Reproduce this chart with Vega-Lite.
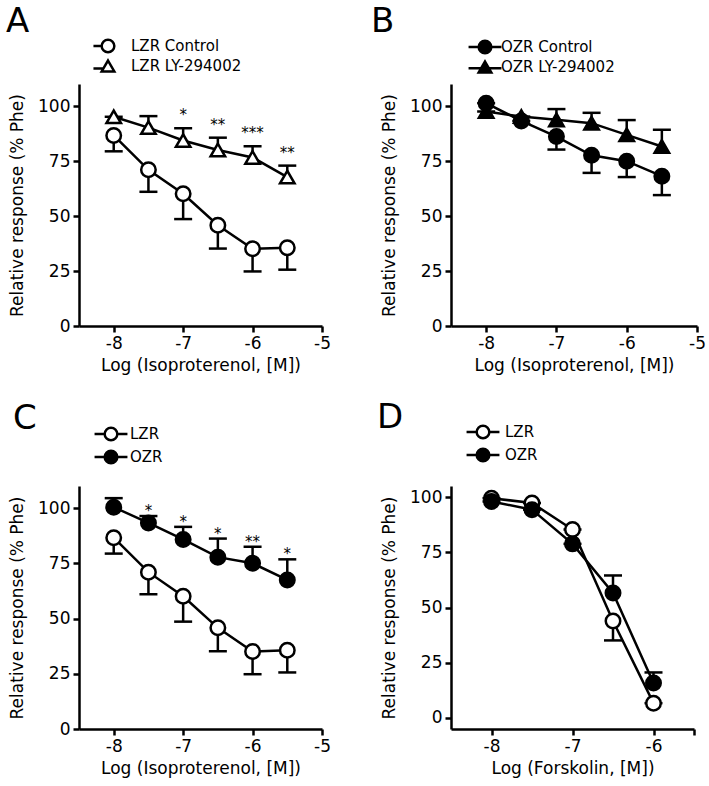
{
  "$schema": "https://vega.github.io/schema/vega-lite/v6.json",
  "background": "white",
  "padding": {"left": 6, "top": 5, "right": 5, "bottom": 5},
  "datasets": {
    "d": [
      {"panel": "A", "series": "LZR Control", "x": -8, "mean": 86.6, "end": 79.4, "sig": ""},
      {"panel": "A", "series": "LZR Control", "x": -7.5, "mean": 71.0, "end": 61.0, "sig": ""},
      {"panel": "A", "series": "LZR Control", "x": -7, "mean": 60.1, "end": 48.6, "sig": ""},
      {"panel": "A", "series": "LZR Control", "x": -6.5, "mean": 45.8, "end": 35.2, "sig": ""},
      {"panel": "A", "series": "LZR Control", "x": -6, "mean": 35.1, "end": 24.8, "sig": ""},
      {"panel": "A", "series": "LZR Control", "x": -5.5, "mean": 35.6, "end": 25.6, "sig": ""},
      {"panel": "A", "series": "LZR LY-294002", "x": -8, "mean": 95.1, "end": 95.1, "sig": ""},
      {"panel": "A", "series": "LZR LY-294002", "x": -7.5, "mean": 90.2, "end": 95.4, "sig": ""},
      {"panel": "A", "series": "LZR LY-294002", "x": -7, "mean": 84.3, "end": 89.9, "sig": "*"},
      {"panel": "A", "series": "LZR LY-294002", "x": -6.5, "mean": 80.0, "end": 85.6, "sig": "**"},
      {"panel": "A", "series": "LZR LY-294002", "x": -6, "mean": 76.6, "end": 81.7, "sig": "***"},
      {"panel": "A", "series": "LZR LY-294002", "x": -5.5, "mean": 67.7, "end": 72.9, "sig": "**"},
      {"panel": "B", "series": "OZR Control", "x": -8, "mean": 101.3, "end": 101.3, "sig": ""},
      {"panel": "B", "series": "OZR Control", "x": -7.5, "mean": 93.2, "end": 93.2, "sig": ""},
      {"panel": "B", "series": "OZR Control", "x": -7, "mean": 86.1, "end": 80.2, "sig": ""},
      {"panel": "B", "series": "OZR Control", "x": -6.5, "mean": 77.6, "end": 69.6, "sig": ""},
      {"panel": "B", "series": "OZR Control", "x": -6, "mean": 74.9, "end": 67.7, "sig": ""},
      {"panel": "B", "series": "OZR Control", "x": -5.5, "mean": 68.1, "end": 59.5, "sig": ""},
      {"panel": "B", "series": "OZR LY-294002", "x": -8, "mean": 97.5, "end": 97.5, "sig": ""},
      {"panel": "B", "series": "OZR LY-294002", "x": -7.5, "mean": 95.2, "end": 95.2, "sig": ""},
      {"panel": "B", "series": "OZR LY-294002", "x": -7, "mean": 93.7, "end": 98.6, "sig": ""},
      {"panel": "B", "series": "OZR LY-294002", "x": -6.5, "mean": 92.2, "end": 96.9, "sig": ""},
      {"panel": "B", "series": "OZR LY-294002", "x": -6, "mean": 86.9, "end": 93.6, "sig": ""},
      {"panel": "B", "series": "OZR LY-294002", "x": -5.5, "mean": 81.6, "end": 89.2, "sig": ""},
      {"panel": "C", "series": "LZR", "x": -8, "mean": 86.6, "end": 79.4, "sig": ""},
      {"panel": "C", "series": "LZR", "x": -7.5, "mean": 71.0, "end": 61.0, "sig": ""},
      {"panel": "C", "series": "LZR", "x": -7, "mean": 60.1, "end": 48.6, "sig": ""},
      {"panel": "C", "series": "LZR", "x": -6.5, "mean": 45.8, "end": 35.2, "sig": ""},
      {"panel": "C", "series": "LZR", "x": -6, "mean": 35.1, "end": 24.8, "sig": ""},
      {"panel": "C", "series": "LZR", "x": -5.5, "mean": 35.6, "end": 25.6, "sig": ""},
      {"panel": "C", "series": "OZR", "x": -8, "mean": 100.4, "end": 104.5, "sig": ""},
      {"panel": "C", "series": "OZR", "x": -7.5, "mean": 93.3, "end": 96.4, "sig": "*"},
      {"panel": "C", "series": "OZR", "x": -7, "mean": 85.8, "end": 91.5, "sig": "*"},
      {"panel": "C", "series": "OZR", "x": -6.5, "mean": 77.8, "end": 86.2, "sig": "*"},
      {"panel": "C", "series": "OZR", "x": -6, "mean": 75.0, "end": 82.5, "sig": "**"},
      {"panel": "C", "series": "OZR", "x": -5.5, "mean": 67.5, "end": 76.8, "sig": "*"},
      {"panel": "D", "series": "LZR", "x": -8, "mean": 99.5, "end": 99.5, "sig": ""},
      {"panel": "D", "series": "LZR", "x": -7.5, "mean": 97.3, "end": 97.3, "sig": ""},
      {"panel": "D", "series": "LZR", "x": -7, "mean": 85.3, "end": 85.3, "sig": ""},
      {"panel": "D", "series": "LZR", "x": -6.5, "mean": 43.9, "end": 35.1, "sig": ""},
      {"panel": "D", "series": "LZR", "x": -6, "mean": 6.7, "end": 6.7, "sig": ""},
      {"panel": "D", "series": "OZR", "x": -8, "mean": 98.0, "end": 98.0, "sig": ""},
      {"panel": "D", "series": "OZR", "x": -7.5, "mean": 94.3, "end": 94.3, "sig": ""},
      {"panel": "D", "series": "OZR", "x": -7, "mean": 78.8, "end": 78.8, "sig": ""},
      {"panel": "D", "series": "OZR", "x": -6.5, "mean": 56.6, "end": 64.5, "sig": ""},
      {"panel": "D", "series": "OZR", "x": -6, "mean": 15.8, "end": 20.6, "sig": ""}
    ]
  },
  "config": {
    "font": "DejaVu Sans",
    "view": {"stroke": null},
    "axis": {
      "domainColor": "black", "domainWidth": 2.5, "tickColor": "black", "tickWidth": 2.5, "tickSize": 6,
      "labelColor": "black", "labelFont": "DejaVu Sans", "labelFontSize": 17, "labelPadding": 3,
      "labelFlush": false, "labelOverlap": false,
      "titleFont": "DejaVu Sans", "titleFontSize": 17, "titleFontWeight": "normal", "titleColor": "black",
      "grid": false
    },
    "axisX": {"titlePadding": 6},
    "axisY": {"titlePadding": 11},
    "legend": {"title": null, "orient": "none", "padding": 0, "symbolSize": 160, "symbolStrokeWidth": 2.5, "symbolStrokeColor": "black", "symbolOpacity": 1, "labelFont": "DejaVu Sans", "labelFontSize": 15, "labelColor": "black"},
    "title": {"font": "DejaVu Sans", "fontSize": 34, "fontWeight": "normal", "color": "black", "anchor": "start", "frame": "group", "baseline": "alphabetic"}
  },
  "columns": 2,
  "spacing": {"row": 160, "column": 129},
  "bounds": "flush",
  "resolve": {"scale": {"shape": "independent", "fill": "independent"}, "legend": {"fill": "independent", "shape": "independent"}},
  "concat": [
    {
      "width": 243, "height": 242,
      "title": {"text": "A", "dx": -73, "offset": -1},
      "data": {"name": "d"},
      "transform": [{"filter": "datum.panel === 'A'"}],
      "resolve": {"scale": {"shape": "independent", "fill": "independent"}},
      "encoding": {
        "x": {"field": "x", "type": "quantitative", "scale": {"domain": [-8.5, -5], "nice": false, "zero": false}, "axis": {"values": [-8, -7, -6, -5], "labelExpr": "'' + datum.value"}, "title": "Log (Isoproterenol, [M])"}
      },
      "layer": [
        {"mark": {"type": "rule", "strokeWidth": 2.5, "color": "black"},
         "encoding": {"y": {"field": "mean", "type": "quantitative", "scale": {"domain": [0, 110], "nice": false, "zero": false}, "axis": {"values": [0, 25, 50, 75, 100]}, "title": "Relative response (% Phe)"}, "y2": {"field": "end"}}},
        {"mark": {"type": "tick", "orient": "horizontal", "size": 18, "thickness": 2.5, "color": "black", "opacity": 1},
         "encoding": {"y": {"field": "end", "type": "quantitative", "scale": {"domain": [0, 110], "nice": false, "zero": false}, "title": "Relative response (% Phe)"}}},
        {"mark": {"type": "line", "strokeWidth": 2.5, "color": "black"},
         "encoding": {"y": {"field": "mean", "type": "quantitative", "scale": {"domain": [0, 110], "nice": false, "zero": false}, "title": "Relative response (% Phe)"}, "detail": {"field": "series"}}},
        {"mark": {"type": "point", "size": 210, "strokeWidth": 2.5, "stroke": "black", "filled": true, "opacity": 1},
         "encoding": {
           "y": {"field": "mean", "type": "quantitative", "scale": {"domain": [0, 110], "nice": false, "zero": false}, "title": "Relative response (% Phe)"},
           "shape": {"field": "series", "type": "nominal", "scale": {"domain": ["LZR Control", "LZR LY-294002"], "range": ["circle", "triangle-up"]}, "legend": null},
           "fill": {"field": "series", "type": "nominal", "scale": {"domain": ["LZR Control", "LZR LY-294002"], "range": ["white", "white"]}, "legend": null}
         }},
        {"transform": [{"filter": "false"}],
         "mark": {"type": "point", "strokeWidth": 2.5, "stroke": "black", "filled": true, "opacity": 1},
         "encoding": {
           "y": {"field": "mean", "type": "quantitative", "scale": {"domain": [0, 110], "nice": false, "zero": false}, "title": "Relative response (% Phe)"},
           "shape": {"field": "series", "type": "nominal", "scale": {"domain": ["LZR Control", "LZR LY-294002"], "range": ["M-2.3,0L-1,0M1,0A1,1,0,1,1,-1,0A1,1,0,1,1,1,0Z", "M-2.3,0.4L-0.73,0.4M0,-0.866L1,0.866L-1,0.866Z"]},
             "legend": {"legendX": 21, "legendY": -46, "labelOffset": 15, "rowPadding": -10, "encode": {"symbols": {"update": {"stroke": {"value": "black"}, "strokeWidth": {"value": 2.5}}}}}},
           "fill": {"field": "series", "type": "nominal", "scale": {"domain": ["LZR Control", "LZR LY-294002"], "range": ["white", "white"]},
             "legend": {"legendX": 21, "legendY": -46, "labelOffset": 15, "rowPadding": -10, "encode": {"symbols": {"update": {"stroke": {"value": "black"}, "strokeWidth": {"value": 2.5}}}}}}
         }},
        {"transform": [{"filter": "datum.sig !== ''"}],
         "mark": {"type": "text", "dy": -8, "fontSize": 15, "baseline": "alphabetic", "color": "black"},
         "encoding": {"y": {"field": "end", "type": "quantitative", "scale": {"domain": [0, 110], "nice": false, "zero": false}, "title": "Relative response (% Phe)"}, "text": {"field": "sig"}}}
      ]
    },
    {
      "width": 246, "height": 242,
      "title": {"text": "B", "dx": -80, "offset": 0},
      "data": {"name": "d"},
      "transform": [{"filter": "datum.panel === 'B'"}],
      "resolve": {"scale": {"shape": "independent", "fill": "independent"}},
      "encoding": {
        "x": {"field": "x", "type": "quantitative", "scale": {"domain": [-8.5, -5], "nice": false, "zero": false}, "axis": {"values": [-8, -7, -6, -5], "labelExpr": "'' + datum.value"}, "title": "Log (Isoproterenol, [M])"}
      },
      "layer": [
        {"mark": {"type": "rule", "strokeWidth": 2.5, "color": "black"},
         "encoding": {"y": {"field": "mean", "type": "quantitative", "scale": {"domain": [0, 110], "nice": false, "zero": false}, "axis": {"values": [0, 25, 50, 75, 100]}, "title": "Relative response (% Phe)"}, "y2": {"field": "end"}}},
        {"mark": {"type": "tick", "orient": "horizontal", "size": 18, "thickness": 2.5, "color": "black", "opacity": 1},
         "encoding": {"y": {"field": "end", "type": "quantitative", "scale": {"domain": [0, 110], "nice": false, "zero": false}, "title": "Relative response (% Phe)"}}},
        {"mark": {"type": "line", "strokeWidth": 2.5, "color": "black"},
         "encoding": {"y": {"field": "mean", "type": "quantitative", "scale": {"domain": [0, 110], "nice": false, "zero": false}, "title": "Relative response (% Phe)"}, "detail": {"field": "series"}}},
        {"mark": {"type": "point", "size": 210, "strokeWidth": 2.5, "stroke": "black", "filled": true, "opacity": 1},
         "encoding": {
           "y": {"field": "mean", "type": "quantitative", "scale": {"domain": [0, 110], "nice": false, "zero": false}, "title": "Relative response (% Phe)"},
           "shape": {"field": "series", "type": "nominal", "scale": {"domain": ["OZR Control", "OZR LY-294002"], "range": ["circle", "triangle-up"]}, "legend": null},
           "fill": {"field": "series", "type": "nominal", "scale": {"domain": ["OZR Control", "OZR LY-294002"], "range": ["black", "black"]}, "legend": null}
         }},
        {"transform": [{"filter": "false"}],
         "mark": {"type": "point", "strokeWidth": 2.5, "stroke": "black", "filled": true, "opacity": 1},
         "encoding": {
           "y": {"field": "mean", "type": "quantitative", "scale": {"domain": [0, 110], "nice": false, "zero": false}, "title": "Relative response (% Phe)"},
           "shape": {"field": "series", "type": "nominal", "scale": {"domain": ["OZR Control", "OZR LY-294002"], "range": ["M-2.6,0L-1,0M1,0L2.6,0M1,0A1,1,0,1,1,-1,0A1,1,0,1,1,1,0Z", "M-2.6,0.2L-0.62,0.2M0.62,0.2L2.6,0.2M0,-0.866L1,0.866L-1,0.866Z"]},
             "legend": {"legendX": 26, "legendY": -45, "labelOffset": 8, "rowPadding": -5, "encode": {"symbols": {"update": {"stroke": {"value": "black"}, "strokeWidth": {"value": 2.5}}}}}},
           "fill": {"field": "series", "type": "nominal", "scale": {"domain": ["OZR Control", "OZR LY-294002"], "range": ["black", "black"]},
             "legend": {"legendX": 26, "legendY": -45, "labelOffset": 8, "rowPadding": -5, "encode": {"symbols": {"update": {"stroke": {"value": "black"}, "strokeWidth": {"value": 2.5}}}}}}
         }}
      ]
    },
    {
      "width": 243, "height": 243,
      "title": {"text": "C", "dx": -66, "offset": -10},
      "data": {"name": "d"},
      "transform": [{"filter": "datum.panel === 'C'"}],
      "resolve": {"scale": {"shape": "independent", "fill": "independent"}},
      "encoding": {
        "x": {"field": "x", "type": "quantitative", "scale": {"domain": [-8.5, -5], "nice": false, "zero": false}, "axis": {"values": [-8, -7, -6, -5], "labelExpr": "'' + datum.value"}, "title": "Log (Isoproterenol, [M])"}
      },
      "layer": [
        {"mark": {"type": "rule", "strokeWidth": 2.5, "color": "black"},
         "encoding": {"y": {"field": "mean", "type": "quantitative", "scale": {"domain": [0, 110], "nice": false, "zero": false}, "axis": {"values": [0, 25, 50, 75, 100]}, "title": "Relative response (% Phe)"}, "y2": {"field": "end"}}},
        {"mark": {"type": "tick", "orient": "horizontal", "size": 18, "thickness": 2.5, "color": "black", "opacity": 1},
         "encoding": {"y": {"field": "end", "type": "quantitative", "scale": {"domain": [0, 110], "nice": false, "zero": false}, "title": "Relative response (% Phe)"}}},
        {"mark": {"type": "line", "strokeWidth": 2.5, "color": "black"},
         "encoding": {"y": {"field": "mean", "type": "quantitative", "scale": {"domain": [0, 110], "nice": false, "zero": false}, "title": "Relative response (% Phe)"}, "detail": {"field": "series"}}},
        {"mark": {"type": "point", "shape": "circle", "size": 210, "strokeWidth": 2.5, "stroke": "black", "filled": true, "opacity": 1},
         "encoding": {
           "y": {"field": "mean", "type": "quantitative", "scale": {"domain": [0, 110], "nice": false, "zero": false}, "title": "Relative response (% Phe)"},
           "fill": {"field": "series", "type": "nominal", "scale": {"domain": ["LZR", "OZR"], "range": ["white", "black"]}, "legend": null}
         }},
        {"transform": [{"filter": "false"}],
         "mark": {"type": "point", "strokeWidth": 2.5, "stroke": "black", "filled": true, "opacity": 1},
         "encoding": {
           "y": {"field": "mean", "type": "quantitative", "scale": {"domain": [0, 110], "nice": false, "zero": false}, "title": "Relative response (% Phe)"},
           "shape": {"field": "series", "type": "nominal", "scale": {"domain": ["LZR", "OZR"], "range": ["M-2.6,0L-1,0M1,0L2.6,0M1,0A1,1,0,1,1,-1,0A1,1,0,1,1,1,0Z", "M-2.6,0L-1,0M1,0L2.6,0M1,0A1,1,0,1,1,-1,0A1,1,0,1,1,1,0Z"]},
             "legend": {"legendX": 24, "legendY": -60, "labelOffset": 11, "rowPadding": -1, "encode": {"symbols": {"update": {"stroke": {"value": "black"}, "strokeWidth": {"value": 2.5}}}}}},
           "fill": {"field": "series", "type": "nominal", "scale": {"domain": ["LZR", "OZR"], "range": ["white", "black"]},
             "legend": {"legendX": 24, "legendY": -60, "labelOffset": 11, "rowPadding": -1, "encode": {"symbols": {"update": {"stroke": {"value": "black"}, "strokeWidth": {"value": 2.5}}}}}}
         }},
        {"transform": [{"filter": "datum.sig !== ''"}],
         "mark": {"type": "text", "dy": 0, "fontSize": 15, "baseline": "alphabetic", "color": "black"},
         "encoding": {"y": {"field": "end", "type": "quantitative", "scale": {"domain": [0, 110], "nice": false, "zero": false}, "title": "Relative response (% Phe)"}, "text": {"field": "sig"}}}
      ]
    },
    {
      "width": 243, "height": 243,
      "title": {"text": "D", "dx": -74, "offset": -11},
      "data": {"name": "d"},
      "transform": [{"filter": "datum.panel === 'D'"}],
      "resolve": {"scale": {"shape": "independent", "fill": "independent"}},
      "encoding": {
        "x": {"field": "x", "type": "quantitative", "scale": {"domain": [-8.5, -5.5], "nice": false, "zero": false}, "axis": {"values": [-8, -7, -6, -5.5], "labelExpr": "datum.value === -5.5 ? '' : '' + datum.value"}, "title": "Log (Forskolin, [M])"}
      },
      "layer": [
        {"mark": {"type": "rule", "strokeWidth": 2.5, "color": "black"},
         "encoding": {"y": {"field": "mean", "type": "quantitative", "scale": {"domain": [-5, 105], "nice": false, "zero": false}, "axis": {"values": [0, 25, 50, 75, 100]}, "title": "Relative response (% Phe)"}, "y2": {"field": "end"}}},
        {"mark": {"type": "tick", "orient": "horizontal", "size": 18, "thickness": 2.5, "color": "black", "opacity": 1},
         "encoding": {"y": {"field": "end", "type": "quantitative", "scale": {"domain": [-5, 105], "nice": false, "zero": false}, "title": "Relative response (% Phe)"}}},
        {"mark": {"type": "line", "strokeWidth": 2.5, "color": "black"},
         "encoding": {"y": {"field": "mean", "type": "quantitative", "scale": {"domain": [-5, 105], "nice": false, "zero": false}, "title": "Relative response (% Phe)"}, "detail": {"field": "series"}}},
        {"mark": {"type": "point", "shape": "circle", "size": 210, "strokeWidth": 2.5, "stroke": "black", "filled": true, "opacity": 1},
         "encoding": {
           "y": {"field": "mean", "type": "quantitative", "scale": {"domain": [-5, 105], "nice": false, "zero": false}, "title": "Relative response (% Phe)"},
           "fill": {"field": "series", "type": "nominal", "scale": {"domain": ["LZR", "OZR"], "range": ["white", "black"]}, "legend": null}
         }},
        {"transform": [{"filter": "false"}],
         "mark": {"type": "point", "strokeWidth": 2.5, "stroke": "black", "filled": true, "opacity": 1},
         "encoding": {
           "y": {"field": "mean", "type": "quantitative", "scale": {"domain": [-5, 105], "nice": false, "zero": false}, "title": "Relative response (% Phe)"},
           "shape": {"field": "series", "type": "nominal", "scale": {"domain": ["LZR", "OZR"], "range": ["M-2.6,0L-1,0M1,0L2.6,0M1,0A1,1,0,1,1,-1,0A1,1,0,1,1,1,0Z", "M-2.6,0L-1,0M1,0L2.6,0M1,0A1,1,0,1,1,-1,0A1,1,0,1,1,1,0Z"]},
             "legend": {"legendX": 24, "legendY": -62, "labelOffset": 14, "rowPadding": -1, "encode": {"symbols": {"update": {"stroke": {"value": "black"}, "strokeWidth": {"value": 2.5}}}}}},
           "fill": {"field": "series", "type": "nominal", "scale": {"domain": ["LZR", "OZR"], "range": ["white", "black"]},
             "legend": {"legendX": 24, "legendY": -62, "labelOffset": 14, "rowPadding": -1, "encode": {"symbols": {"update": {"stroke": {"value": "black"}, "strokeWidth": {"value": 2.5}}}}}}
         }}
      ]
    }
  ]
}
